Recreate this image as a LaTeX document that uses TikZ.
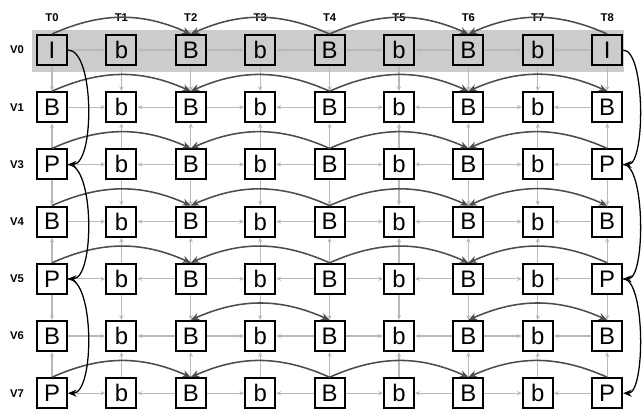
\documentclass[tikz,border=0pt]{standalone}
\usepackage{fontspec}
\setmainfont{Liberation Sans}
\usetikzlibrary{arrows.meta}

\tikzset{
  frame/.style={draw=black, line width=1.4pt, minimum size=0.75cm, inner sep=0pt, font=\fontsize{17}{17}\selectfont},
  lbl/.style={font=\fontsize{8}{8}\selectfont\bfseries},
  link/.style={draw=gray!55, line width=0.9pt, >={Stealth[length=3.5pt,width=3pt]}, ->},
  pred/.style={draw=black!70, line width=1.1pt, >={Stealth[length=6pt,width=5pt]}, ->},
  view/.style={draw=black, line width=0.9pt, >={Stealth[length=6pt,width=5pt]}, ->},
}

\begin{document}
\begin{tikzpicture}[x=0.025cm, y=-0.025cm]
\useasboundingbox (0,0) rectangle (642,409);
% base view band
\fill[gray!40] (32,30) rectangle (624,72);

\foreach \c in {0,...,8}
  \node[lbl] (t\c) at ({52+69.4*\c}, 18) {T\c};

\foreach \r/\v/\k in {0/V0/I,1/V1/B,2/V3/P,3/V4/B,4/V5/P,5/V6/B,6/V7/P} {
  \node[lbl] (v\r) at (17, {50+57.2*\r}) {\v};
  \foreach \c in {0,...,8}
    \node[frame] (f\r\c) at ({52+69.4*\c}, {50+57.2*\r})
      {\ifodd\c\relax b\else\ifnum\c=0 \k\else\ifnum\c=8 \k\else B\fi\fi\fi};
}

% temporal links to the b frames
\foreach \r in {0,...,6} {
  \foreach \c [evaluate=\c as \n using int(\c+1), evaluate=\c as \m using int(\c+2)] in {0,2,4,6} {
    \draw[link] (f\r\c) -- (f\r\n);
    \draw[link] (f\r\m) -- (f\r\n);
  }
}

% inter-view links
\foreach \c in {0,...,8}
  \foreach \a/\b in {0/1,2/1,2/3,4/3,4/5,6/5}
    \draw[link] (f\a\c) -- (f\b\c);

% hierarchical B arcs
\foreach \r in {0,1,2,3,4,6} {
  \draw[pred] (f\r0.north) to[bend left=24] (f\r2.north);
  \draw[pred] (f\r4.north) to[bend right=24] (f\r2.north);
  \draw[pred] (f\r4.north) to[bend left=24] (f\r6.north);
}
\foreach \r in {0,2,4,6}
  \draw[pred] (f\r8.north) to[bend right=24] (f\r6.north);
\foreach \r in {1,3,5}
  \draw[pred,<->] (f\r8.north) to[bend right=24] (f\r6.north);
\draw[pred,<->] (f54.north) to[bend right=24] (f52.north);

% anchor view prediction
\foreach \a/\b in {0/2,2/4,4/6} {
  \draw[view] (f\a0.east) to[out=0,in=0,looseness=0.6] (f\b0.east);
  \draw[view] (f\a8.east) to[out=0,in=0,looseness=0.5] (f\b8.east);
}
\end{tikzpicture}
\end{document}
